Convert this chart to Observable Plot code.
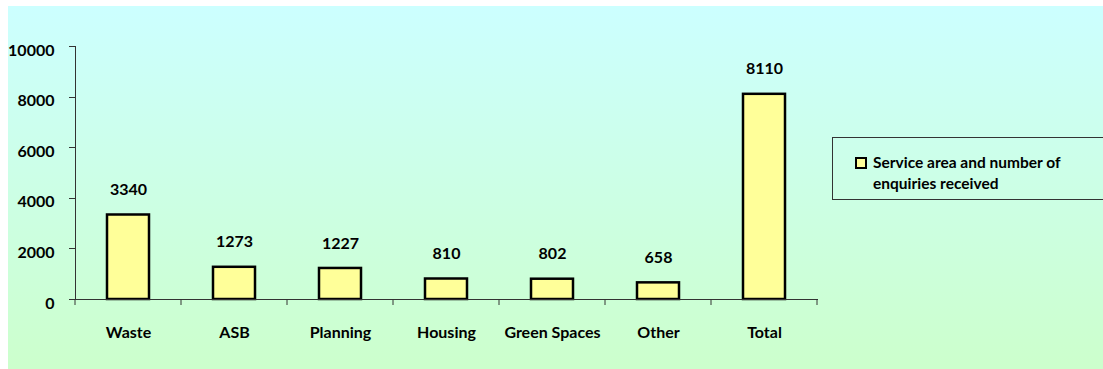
<!DOCTYPE html>
<html>
<head>
<meta charset="utf-8">
<script src="https://cdn.jsdelivr.net/npm/d3@7"></script>
<script src="https://cdn.jsdelivr.net/npm/@observablehq/plot@0.6"></script>
<style>
  html, body { margin: 0; padding: 0; background: #ffffff; overflow: hidden; }
  #wrap { position: relative; width: 1103px; height: 369px; overflow: hidden; font-family: Lato, "Open Sans", sans-serif; }
  #bg { position: absolute; left: 8px; top: 6px; right: 0; bottom: 0; background: linear-gradient(to bottom, #ccffff 0%, #ccffcc 100%); }
  #chart { position: absolute; left: 0; top: 0; }
  #legend { position: absolute; left: 832px; top: 137px; width: 300px; height: 63px; border: 1px solid #333; box-sizing: border-box; }
  #legend .sw { position: absolute; left: 22px; top: 19px; width: 12px; height: 12px; background: #ffff99; border: 2px solid #000; box-sizing: border-box; }
  #legend .tx { position: absolute; left: 40px; top: 14px; font-weight: bold; font-size: 15.5px; line-height: 21px; color: #000; }
</style>
</head>
<body>
<div id="wrap">
  <div id="bg"></div>
  <div id="chart"></div>
  <div id="legend"><div class="sw"></div><div class="tx">Service area and number of<br>enquiries received</div></div>
</div>
<script>
const categories = ["Waste", "ASB", "Planning", "Housing", "Green Spaces", "Other", "Total"];
const enquiries = [3340, 1273, 1227, 810, 802, 658, 8110];
const yTicks = [0, 2000, 4000, 6000, 8000, 10000];

const data = categories.map((c, i) => ({category: c, value: enquiries[i]}));

// small tick marks: category boundaries on x axis, value ticks on y axis
function axisTicks(index, scales, values, dims) {
  const n = categories.length;
  const left = dims.marginLeft;
  const right = dims.width - dims.marginRight;
  const y0 = dims.height - dims.marginBottom;
  const step = (right - left) / n;
  const g = d3.create("svg:g").attr("stroke", "#333").attr("stroke-width", 1);
  for (let i = 0; i <= n; i++) {
    const xx = left + i * step;
    g.append("line").attr("x1", xx).attr("x2", xx).attr("y1", y0).attr("y2", y0 + 6);
  }
  for (const t of yTicks) {
    const yy = Math.round(scales.y(t)) + 0.5;
    g.append("line").attr("x1", left - 6).attr("x2", left).attr("y1", yy).attr("y2", yy);
  }
  return g.node();
}

const chart = Plot.plot({
  width: 1103,
  height: 369,
  marginLeft: 75,
  marginRight: 286,
  marginTop: 46,
  marginBottom: 70,
  style: {background: "transparent", fontFamily: "Lato, 'Open Sans', sans-serif", fontSize: "16px", fontWeight: "bold", color: "#000"},
  x: {domain: categories, type: "band", paddingInner: 0.6, paddingOuter: 0.3, axis: null},
  y: {domain: [0, 10000], axis: null},
  marks: [
    Plot.barY(data, {x: "category", y: "value", fill: "#ffff99", stroke: "#000", strokeWidth: 2.5}),
    Plot.frame({anchor: "left", stroke: "#333"}),
    Plot.frame({anchor: "bottom", stroke: "#333"}),
    axisTicks,
    Plot.text(yTicks, {y: d => d, text: d => String(d), frameAnchor: "left", textAnchor: "end", dx: -21, dy: 4, fill: "#000"}),
    Plot.text(data, {x: "category", y: "value", text: d => String(d.value), dy: -25, fill: "#000"}),
    Plot.text(categories, {x: d => d, text: d => d, frameAnchor: "bottom", dy: 38, fill: "#000"})
  ]
});
document.getElementById("chart").appendChild(chart);
</script>
</body>
</html>
